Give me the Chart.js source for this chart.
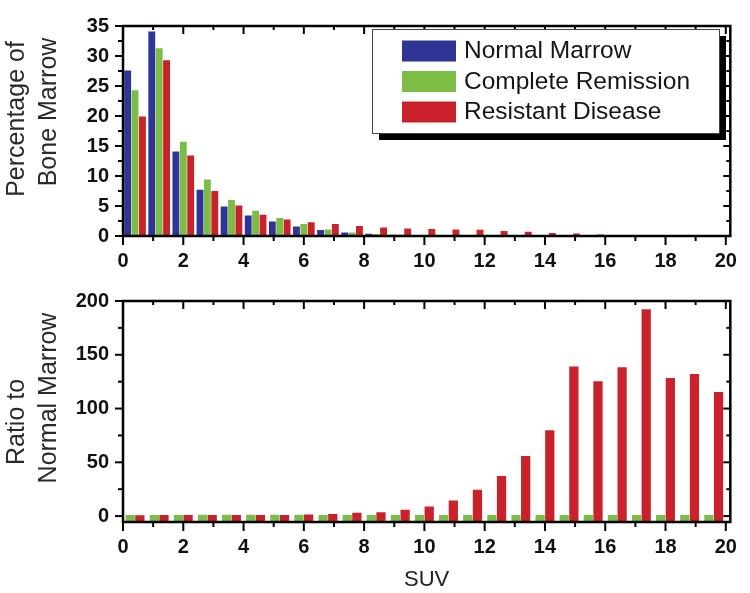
<!DOCTYPE html>
<html>
<head>
<meta charset="utf-8">
<script src="https://cdn.jsdelivr.net/npm/chart.js@4.4.0/dist/chart.umd.min.js"></script>
<style>
    html, body { margin: 0; padding: 0; background: #fff; }
    #wrap { position: relative; width: 750px; height: 593px; }
    .panel { position: absolute; left: 0; width: 750px; }
    #topPanel { top: 0; height: 275px; }
    #bottomPanel { top: 275px; height: 318px; }
</style>
</head>
<body>
<div id="wrap">
    <div class="panel" id="topPanel"><canvas id="topChart"></canvas></div>
    <div class="panel" id="bottomPanel"><canvas id="bottomChart"></canvas></div>
</div>
<script>
// SUV bin centres (bins are 0.8 wide)
const suvBins = [0.4, 1.2, 2.0, 2.8, 3.6, 4.4, 5.2, 6.0, 6.8, 7.6, 8.4, 9.2, 10.0,
    10.8, 11.6, 12.4, 13.2, 14.0, 14.8, 15.6, 16.4, 17.2, 18.0, 18.8, 19.6];

// percentage of bone marrow
const normalMarrow = [27.6, 34.1, 14.1, 7.7, 4.9, 3.4, 2.4, 1.6, 1.0, 0.6, 0.37, 0.22, 0.13,
    0.08, 0.046, 0.023, 0.0125, 0.006, 0.003, 0.002, 0.001, 0.0003, 0.0002, 0.0001, 0.0001];
const completeRemission = [24.3, 31.3, 15.7, 9.4, 6.0, 4.2, 3.0, 2.0, 1.1, 0.6, 0.35, 0.2, 0.12,
    0.08, 0.05, 0.02, 0.01, 0.006, 0.003, 0.002, 0.001, 0.0003, 0.0002, 0.0001, 0.0001];
const resistantDisease = [19.9, 29.3, 13.4, 7.5, 5.1, 3.55, 2.75, 2.3, 2.0, 1.65, 1.43, 1.25, 1.17,
    1.08, 1.06, 0.85, 0.7, 0.5, 0.4, 0.25, 0.12, 0.06, 0.03, 0.015, 0.01];

// ratio to normal marrow
const ratioRemission = [0.9, 0.9, 1.1, 1.2, 1.2, 1.2, 1.3, 1.2, 1.1, 1.0, 1.0, 1.0, 1.0,
    1.0, 1.1, 1.0, 0.9, 1.0, 1.0, 1.0, 1.0, 1.0, 1.0, 1.0, 1.0];
const ratioResistant = [0.7, 0.9, 1.0, 1.0, 1.0, 1.0, 1.1, 1.4, 2.0, 3.1, 3.5, 5.9, 9.0,
    14.5, 24.4, 37.3, 55.8, 79.8, 139, 125.4, 138.4, 192.3, 128.5, 132.2, 115.3];

const xTicks = [0, 2, 4, 6, 8, 10, 12, 14, 16, 18, 20];
const yTicksTop = [0, 5, 10, 15, 20, 25, 30, 35];
const yTicksBottom = [0, 50, 100, 150, 200];

const BLUE = '#2f3594';
const GREEN = '#7bbd45';
const RED = '#c9222b';
const FONT = '"Liberation Sans", Arial, sans-serif';
const tickFont = { family: FONT, size: 20, weight: 'bold' };

const pts = vals => vals.map((v, i) => ({ x: suvBins[i], y: v }));

// box + major/minor ticks like the original plot
const framePlugin = {
    id: 'frame',
    afterDatasetsDraw(chart, args, opts) {
        const { ctx, chartArea: a, scales: { x, y } } = chart;
        const line = (x1, y1, x2, y2) => { ctx.beginPath(); ctx.moveTo(x1, y1); ctx.lineTo(x2, y2); ctx.stroke(); };
        ctx.save();
        ctx.strokeStyle = '#000';
        ctx.lineWidth = 2;
        for (let v = 0; v <= 20; v += 1) {
            const px = x.getPixelForValue(v);
            const len = v % 2 === 0 ? 9 : 5;
            line(px, a.bottom, px, a.bottom + len);
            line(px, a.top, px, a.top + len - 1);
        }
        for (let v = 0; v <= y.max + 1e-6; v += opts.yMinor) {
            const py = y.getPixelForValue(v);
            const major = Math.abs(v % opts.yMajor) < 1e-6;
            line(a.left - (major ? 8 : 5), py, a.left, py);
            line(a.right - (major ? 7 : 4), py, a.right, py);
        }
        ctx.lineWidth = 2.5;
        ctx.strokeRect(a.left, a.top, a.right - a.left, a.bottom - a.top);

        // two-line rotated y title, each line centred where the original has it
        ctx.fillStyle = '#2a2a2a';
        ctx.font = '25px ' + FONT;
        ctx.textAlign = 'center';
        ctx.textBaseline = 'middle';
        opts.title.forEach((txt, i) => {
            ctx.save();
            ctx.translate(opts.titleX[i], opts.titleY[i]);
            ctx.rotate(-Math.PI / 2);
            ctx.fillText(txt, 0, 0);
            ctx.restore();
        });
        ctx.restore();
    }
};

const legendBox = {
    id: 'legendBox',
    afterDraw(chart, args, opts) {
        const { ctx } = chart;
        const { left: l, top: t, width: w, height: h } = opts;
        ctx.save();
        ctx.fillStyle = '#000';
        ctx.fillRect(l + 7, t + 7, w, h);
        ctx.fillStyle = '#fff';
        ctx.fillRect(l, t, w, h);
        ctx.strokeStyle = '#444';
        ctx.lineWidth = 1;
        ctx.strokeRect(l + 0.5, t + 0.5, w, h);
        ctx.font = '24.5px ' + FONT;
        ctx.textBaseline = 'middle';
        chart.data.datasets.forEach((ds, i) => {
            const ry = t + 11.5 + i * 30.5;
            ctx.fillStyle = ds.backgroundColor;
            ctx.fillRect(l + 30, ry, 54, 21);
            ctx.fillStyle = '#151515';
            ctx.fillText(ds.label, l + 92, ry + 11);
        });
        ctx.restore();
    }
};

function axisX(height, title) {
    return {
        type: 'linear', min: 0, max: 20.15, offset: false,
        grid: { display: false, drawTicks: false },
        border: { display: false },
        afterBuildTicks: s => { s.ticks = xTicks.map(v => ({ value: v })); },
        afterFit: s => { s.height = height; },
        ticks: { padding: 13, font: tickFont, color: '#111', autoSkip: false, maxRotation: 0 },
        title: title ? { display: true, text: title, font: { family: FONT, size: 22 }, color: '#222', padding: { top: 0, bottom: 0 } } : { display: false }
    };
}

function axisY(min, max, ticks) {
    return {
        min, max,
        grid: { display: false, drawTicks: false },
        border: { display: false },
        afterBuildTicks: s => { s.ticks = ticks.map(v => ({ value: v })); },
        afterFit: s => { s.width = 123; },
        ticks: { padding: 14, font: tickFont, color: '#111' }
    };
}

new Chart(document.getElementById('topChart'), {
    type: 'bar',
    data: {
        datasets: [
            { label: 'Normal Marrow', data: pts(normalMarrow), backgroundColor: BLUE },
            { label: 'Complete Remission', data: pts(completeRemission), backgroundColor: GREEN },
            { label: 'Resistant Disease', data: pts(resistantDisease), backgroundColor: RED }
        ]
    },
    options: {
        responsive: true, maintainAspectRatio: false, animation: false,
        layout: { padding: { top: 15, right: 12, left: 0, bottom: 0 } },
        datasets: { bar: { categoryPercentage: 0.92, barPercentage: 0.93 } },
        plugins: {
            legend: { display: false }, tooltip: { enabled: false },
            frame: {
                yMinor: 2.5, yMajor: 5,
                title: ['Percentage of', 'Bone Marrow'], titleX: [17, 49], titleY: [119, 112]
            },
            legendBox: { left: 372, top: 29, width: 347, height: 104 }
        },
        scales: {
            x: axisX(39),
            y: axisY(0, 35, yTicksTop)
        }
    },
    plugins: [framePlugin, legendBox]
});

new Chart(document.getElementById('bottomChart'), {
    type: 'bar',
    data: {
        datasets: [
            { label: 'Complete Remission', data: pts(ratioRemission), backgroundColor: GREEN, base: -5.5 },
            { label: 'Resistant Disease', data: pts(ratioResistant), backgroundColor: RED, base: -5.5 }
        ]
    },
    options: {
        responsive: true, maintainAspectRatio: false, animation: false,
        layout: { padding: { top: 24, right: 12, left: 0, bottom: 0 } },
        datasets: { bar: { categoryPercentage: 0.8, barPercentage: 0.96 } },
        plugins: {
            legend: { display: false }, tooltip: { enabled: false },
            frame: {
                yMinor: 25, yMajor: 50,
                title: ['Ratio to', 'Normal Marrow'], titleX: [17, 49], titleY: [147, 123]
            }
        },
        scales: {
            x: axisX(71, 'SUV'),
            y: axisY(-5.5, 200, yTicksBottom)
        }
    },
    plugins: [framePlugin]
});
</script>
</body>
</html>
